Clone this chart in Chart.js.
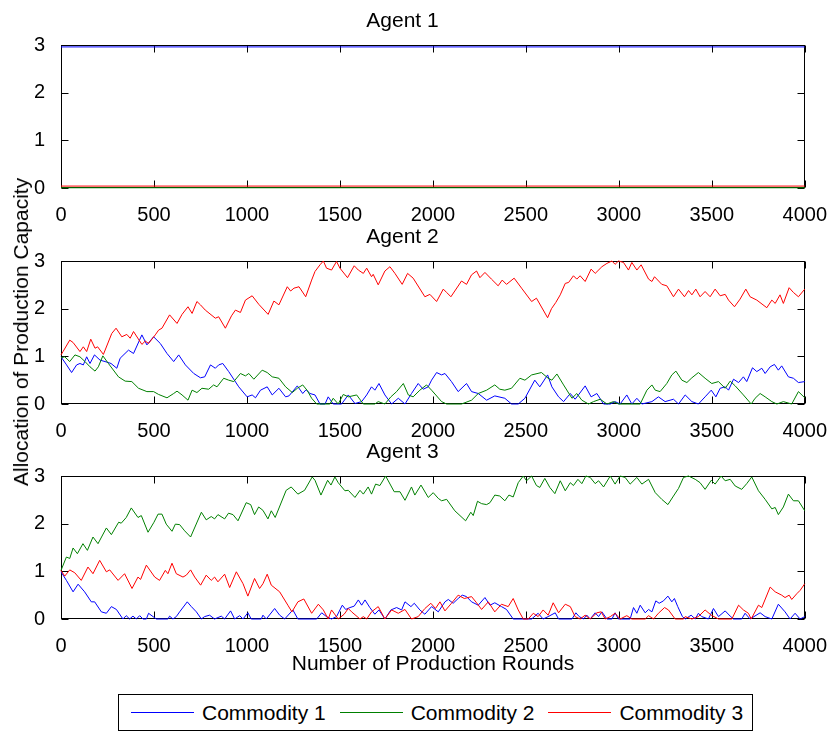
<!DOCTYPE html>
<html>
<head>
<meta charset="utf-8">
<script src="https://cdn.jsdelivr.net/npm/chart.js@4"></script>
<style>
  body { margin: 0; background: #fff; width: 834px; height: 734px; position: relative; overflow: hidden;
         font-family: "Liberation Sans", Arial, sans-serif; color: #000; }
  .panel { position: absolute; left: 0; }
  #ylabel { position: absolute; left: 21px; top: 332px; transform: translate(-50%, -50%) rotate(-90deg);
            font-size: 21px; white-space: nowrap; }
  #xlabel { position: absolute; left: 433px; top: 663px; transform: translate(-50%, -50%);
            font-size: 21px; white-space: nowrap; }
  #legend { position: absolute; left: 118px; top: 694px; width: 635px; height: 37px; box-sizing: border-box;
            border: 1px solid #000; display: flex; align-items: center; padding-left: 12px; font-size: 21px; }
  .item { display: flex; align-items: center; margin-right: 14px; white-space: nowrap; }
  .swatch { width: 63px; height: 0; border-top: 1px solid; margin-right: 8px; }
</style>
</head>
<body>
<canvas id="agent1" class="panel" width="834" height="223" style="top:0px"></canvas>
<canvas id="agent2" class="panel" width="834" height="223" style="top:216px"></canvas>
<canvas id="agent3" class="panel" width="834" height="223" style="top:431px"></canvas>
<div id="ylabel">Allocation of Production Capacity</div>
<div id="xlabel">Number of Production Rounds</div>
<div id="legend"></div>

<script>
// ticks
const xTicks = [0, 500, 1000, 1500, 2000, 2500, 3000, 3500, 4000];
const yTicks = [0, 1, 2, 3];

const commodities = ['Commodity 1', 'Commodity 2', 'Commodity 3'];
const colors = ['#0000ff', '#008000', '#ff0000'];
const agents = ['Agent 1', 'Agent 2', 'Agent 3'];

// [round, allocation]
const agent1Commodity1 = [[0, 2.96], [4000, 2.96]];
const agent1Commodity2 = [[0, 0.005], [4000, 0.005]];
const agent1Commodity3 = [[0, 0.04], [4000, 0.04]];

const agent2Commodity1 = [[0,0.99],[30,0.82],[57,0.66],[84,0.82],[102,0.85],[120,0.82],[138,0.99],[156,0.85],[180,1.03],[210,0.92],[237,0.89],[269,0.85],[300,0.75],[318,0.96],[363,1.13],[390,1.06],[435,1.45],[462,1.24],[498,1.41],[534,1.27],[570,1.06],[606,0.89],[633,1.03],[669,0.82],[714,0.64],[750,0.55],[773,0.57],[804,0.82],[830,0.75],[848,0.82],[870,0.85],[902,0.68],[956,0.36],[1001,0.15],[1028,0.19],[1046,0.13],[1073,0.29],[1109,0.36],[1136,0.19],[1172,0.33],[1208,0.15],[1226,0.17],[1271,0.38],[1300,0.22],[1318,0.3],[1339,0.22],[1366,0.19],[1393,0],[1420,0],[1437,0.15],[1464,0],[1509,0],[1545,0.19],[1581,0.01],[1617,0.05],[1644,0.19],[1670,0.36],[1688,0.29],[1710,0.43],[1742,0.19],[1778,0],[1814,0.12],[1850,0],[1885,0.22],[1921,0.43],[1948,0.31],[1975,0.36],[1993,0.5],[2020,0.66],[2047,0.61],[2065,0.64],[2100,0.47],[2136,0.26],[2181,0.43],[2208,0.26],[2244,0.22],[2289,0.08],[2333,0.17],[2387,0.12],[2423,0],[2459,0],[2495,0.12],[2548,0.5],[2575,0.36],[2617,0.61],[2640,0.36],[2676,0.15],[2703,0.05],[2739,0.22],[2765,0.1],[2783,0.19],[2819,0.38],[2851,0.15],[2882,0.22],[2918,0],[2954,0],[2980,0.05],[3007,0],[3043,0.19],[3070,0],[3097,0.12],[3124,0],[3178,0.05],[3213,0.15],[3249,0.05],[3294,0.1],[3321,0],[3357,0.19],[3393,0.05],[3428,0],[3464,0.15],[3497,0.29],[3522,0.15],[3545,0.33],[3572,0.36],[3590,0.29],[3617,0.52],[3644,0.45],[3670,0.57],[3688,0.47],[3719,0.76],[3742,0.68],[3769,0.75],[3787,0.64],[3814,0.78],[3837,0.83],[3858,0.71],[3876,0.8],[3912,0.57],[3939,0.54],[3966,0.45],[4000,0.47]];

const agent2Commodity2 = [[0,0.97],[20,0.99],[47,0.89],[75,1.03],[102,0.99],[129,0.89],[156,0.78],[183,0.69],[201,0.78],[225,1.01],[255,0.85],[309,0.57],[345,0.48],[381,0.47],[417,0.33],[462,0.26],[498,0.26],[525,0.2],[570,0.13],[606,0.22],[624,0.27],[651,0.19],[683,0.08],[705,0.29],[731,0.24],[758,0.33],[794,0.31],[821,0.4],[839,0.36],[875,0.54],[902,0.5],[929,0.47],[965,0.64],[992,0.59],[1010,0.64],[1037,0.52],[1082,0.71],[1109,0.66],[1136,0.57],[1172,0.54],[1208,0.36],[1244,0.24],[1271,0.33],[1300,0.4],[1325,0.28],[1348,0.12],[1375,0],[1446,0],[1464,0.12],[1491,0],[1518,0.2],[1545,0.15],[1590,0.19],[1626,0],[1688,0],[1706,0.05],[1742,0],[1774,0.15],[1805,0.26],[1841,0.43],[1868,0.19],[1894,0.15],[1930,0.29],[1966,0.4],[1993,0.29],[2047,0.05],[2074,0],[2154,0],[2208,0.08],[2244,0.22],[2289,0.29],[2333,0.4],[2360,0.31],[2387,0.29],[2423,0.33],[2468,0.54],[2495,0.5],[2531,0.61],[2584,0.66],[2620,0.54],[2640,0.5],[2667,0.63],[2703,0.4],[2748,0.12],[2774,0.22],[2801,0.08],[2837,0],[2864,0.05],[2900,0.1],[2936,0],[2971,0.05],[2998,0],[3115,0],[3151,0.29],[3178,0.4],[3196,0.29],[3222,0.26],[3258,0.43],[3285,0.61],[3307,0.69],[3339,0.5],[3366,0.45],[3393,0.55],[3428,0.66],[3464,0.54],[3500,0.43],[3536,0.47],[3572,0.33],[3599,0.48],[3626,0.38],[3670,0.19],[3712,0],[3733,0.12],[3760,0.22],[3787,0.15],[3823,0.05],[3850,0],[3885,0.05],[3930,0],[3966,0.26],[4000,0.13]];

const agent2Commodity3 = [[0,1.03],[11,1.1],[47,1.34],[65,1.29],[102,1.1],[120,1.2],[138,1.1],[160,1.36],[183,1.17],[197,1.2],[228,1.04],[273,1.48],[296,1.59],[327,1.41],[354,1.46],[372,1.38],[390,1.52],[435,1.25],[453,1.32],[471,1.27],[507,1.45],[525,1.55],[543,1.59],[584,1.87],[624,1.69],[651,1.88],[683,2.04],[705,1.9],[731,2.15],[750,2.08],[776,1.97],[830,1.8],[848,1.83],[884,1.59],[917,1.85],[938,1.97],[965,1.92],[992,2.18],[1028,2.27],[1064,2.09],[1114,1.88],[1145,2.16],[1172,2.08],[1217,2.46],[1235,2.37],[1253,2.43],[1280,2.46],[1316,2.25],[1348,2.6],[1366,2.78],[1393,2.92],[1411,3.0],[1428,2.85],[1455,2.81],[1482,2.99],[1500,2.85],[1541,2.65],[1577,2.9],[1599,2.81],[1626,2.74],[1644,2.85],[1670,2.67],[1679,2.72],[1706,2.5],[1742,2.79],[1769,2.88],[1796,2.74],[1835,2.51],[1864,2.74],[1894,2.64],[1957,2.25],[1984,2.3],[2020,2.15],[2056,2.41],[2074,2.34],[2097,2.25],[2154,2.58],[2181,2.51],[2208,2.71],[2235,2.79],[2253,2.65],[2280,2.76],[2315,2.62],[2351,2.48],[2373,2.6],[2396,2.51],[2437,2.64],[2477,2.43],[2531,2.15],[2557,2.22],[2617,1.81],[2638,2.0],[2661,2.13],[2685,2.29],[2712,2.53],[2730,2.55],[2756,2.69],[2774,2.62],[2792,2.69],[2819,2.57],[2851,2.83],[2873,2.74],[2909,2.88],[2936,2.95],[2963,3.0],[2980,2.93],[2998,3.0],[3025,2.97],[3052,2.81],[3070,2.97],[3097,2.81],[3120,2.92],[3160,2.62],[3178,2.57],[3192,2.67],[3231,2.51],[3258,2.48],[3294,2.25],[3321,2.41],[3353,2.25],[3375,2.38],[3393,2.29],[3414,2.41],[3437,2.25],[3464,2.36],[3491,2.25],[3518,2.41],[3545,2.27],[3572,2.3],[3590,2.18],[3622,2.04],[3652,2.2],[3683,2.41],[3706,2.25],[3742,2.18],[3796,2.02],[3823,2.18],[3841,2.11],[3867,2.29],[3885,2.11],[3916,2.44],[3939,2.34],[3966,2.25],[4000,2.41]];

const agent3Commodity1 = [[0,0.99],[29,0.81],[65,0.57],[92,0.73],[127,0.57],[163,0.36],[181,0.36],[217,0.15],[244,0.12],[271,0.26],[298,0.2],[333,0],[351,0.07],[369,0],[387,0.06],[405,0],[423,0.07],[441,0],[459,0],[471,0.12],[495,0.05],[513,0],[575,0],[584,0.06],[602,0],[620,0.05],[638,0.15],[679,0.36],[701,0.26],[728,0.15],[755,0],[772,0.05],[799,0.08],[826,0],[862,0.06],[880,0],[912,0.17],[934,0],[961,0.07],[979,0],[1005,0.13],[1023,0],[1077,0],[1086,0.08],[1104,0],[1149,0.22],[1176,0.08],[1203,0],[1247,0.19],[1274,0],[1375,0],[1402,0.13],[1428,0.05],[1455,0],[1482,0.05],[1513,0.29],[1531,0.2],[1554,0.24],[1577,0.27],[1599,0.4],[1617,0.29],[1635,0.4],[1661,0.24],[1688,0.1],[1710,0.19],[1742,0],[1774,0.19],[1805,0.24],[1832,0.19],[1850,0.36],[1882,0.26],[1900,0.33],[1930,0.19],[1957,0.1],[1993,0.26],[2029,0.15],[2065,0.36],[2083,0.41],[2109,0.33],[2136,0.43],[2158,0.5],[2181,0.47],[2208,0.36],[2244,0.29],[2280,0.45],[2307,0.29],[2333,0.34],[2369,0.26],[2396,0.2],[2432,0],[2531,0],[2566,0.12],[2593,0],[2620,0.05],[2658,0.13],[2676,0],[2748,0],[2769,0.13],[2787,0.05],[2810,0],[2828,0.08],[2846,0],[2873,0.13],[2891,0.05],[2909,0.15],[2936,0],[2963,0],[2980,0.13],[2998,0],[3061,0],[3079,0.24],[3097,0.12],[3115,0.29],[3142,0.13],[3160,0.2],[3178,0.15],[3199,0.38],[3217,0.33],[3240,0.38],[3264,0.48],[3285,0.36],[3299,0.43],[3317,0.26],[3342,0.05],[3357,0],[3389,0.08],[3411,0],[3428,0.12],[3446,0.05],[3482,0],[3509,0.22],[3536,0.05],[3572,0.17],[3599,0.06],[3617,0],[3661,0],[3679,0.12],[3706,0],[3760,0.13],[3787,0.05],[3823,0],[3858,0.31],[3894,0.15],[3921,0],[3948,0.12],[3975,0],[4000,0.05]];

const agent3Commodity2 = [[0,1.02],[29,1.3],[47,1.27],[65,1.49],[88,1.37],[118,1.58],[142,1.44],[172,1.72],[199,1.58],[244,1.91],[271,1.77],[310,2.03],[324,2.01],[351,2.13],[378,2.33],[414,2.13],[432,2.17],[468,1.82],[500,2.03],[522,2.2],[543,2.2],[566,1.99],[597,1.84],[615,1.99],[638,1.98],[665,1.85],[697,1.72],[755,2.24],[781,2.08],[808,2.15],[826,2.1],[844,2.19],[880,2.1],[901,2.22],[925,2.19],[952,2.06],[996,2.44],[1020,2.4],[1041,2.19],[1063,2.35],[1086,2.28],[1113,2.1],[1131,2.27],[1152,2.13],[1211,2.7],[1238,2.77],[1274,2.62],[1310,2.7],[1351,2.98],[1366,2.91],[1398,2.6],[1434,2.91],[1452,2.81],[1473,2.98],[1491,2.86],[1527,2.69],[1545,2.7],[1581,2.55],[1608,2.7],[1626,2.62],[1652,2.77],[1670,2.62],[1692,2.83],[1715,2.8],[1746,3.0],[1792,2.67],[1823,2.67],[1850,2.49],[1885,2.77],[1903,2.6],[1936,2.81],[1975,2.55],[2002,2.65],[2029,2.53],[2047,2.48],[2074,2.51],[2118,2.27],[2176,2.06],[2204,2.24],[2217,2.17],[2240,2.47],[2262,2.42],[2289,2.4],[2307,2.44],[2333,2.6],[2360,2.58],[2387,2.48],[2409,2.6],[2432,2.56],[2459,2.86],[2486,3.0],[2504,2.9],[2531,3.0],[2557,2.8],[2575,2.76],[2602,2.95],[2629,2.76],[2656,2.63],[2685,2.9],[2712,2.69],[2739,2.86],[2756,2.8],[2780,2.93],[2801,2.84],[2823,3.0],[2846,2.97],[2873,2.84],[2891,2.9],[2918,2.77],[2954,3.0],[2980,2.83],[3007,3.0],[3034,2.97],[3061,2.83],[3097,2.97],[3124,2.83],[3160,2.93],[3196,2.65],[3231,2.51],[3264,2.4],[3294,2.58],[3321,2.74],[3348,2.97],[3375,3.0],[3411,2.93],[3437,2.86],[3464,2.72],[3497,2.91],[3518,2.83],[3550,3.0],[3572,2.9],[3599,2.93],[3626,2.79],[3661,2.72],[3688,2.84],[3715,2.98],[3751,2.69],[3787,2.51],[3823,2.31],[3841,2.34],[3858,2.19],[3885,2.35],[3912,2.62],[3939,2.48],[3966,2.48],[4000,2.27]];

const agent3Commodity3 = [[0,1.02],[20,0.9],[47,1.03],[74,0.97],[109,0.81],[145,1.09],[172,0.95],[208,1.23],[244,0.99],[262,1.03],[307,0.81],[342,0.95],[382,0.64],[414,0.88],[428,0.83],[459,1.13],[504,0.88],[530,0.81],[561,1.02],[575,0.95],[597,1.17],[620,0.95],[656,0.88],[674,0.92],[697,1.03],[719,0.88],[751,0.71],[781,0.92],[808,0.81],[826,0.88],[844,0.78],[880,0.94],[907,0.66],[943,0.99],[979,0.74],[1005,0.48],[1041,0.85],[1068,0.64],[1086,0.74],[1109,0.94],[1131,0.71],[1176,0.57],[1220,0.29],[1242,0.15],[1274,0.36],[1306,0.42],[1348,0.12],[1384,0.31],[1411,0.19],[1437,0],[1455,0.19],[1491,0],[1523,0.1],[1545,0.22],[1563,0.15],[1608,0],[1626,0.05],[1644,0],[1670,0.15],[1706,0.26],[1742,0],[1778,0.19],[1814,0.12],[1850,0.2],[1885,0],[1921,0.05],[1957,0.22],[1989,0.33],[2014,0.22],[2038,0.36],[2065,0.17],[2100,0.33],[2136,0.5],[2169,0.43],[2208,0.47],[2235,0.34],[2262,0.2],[2298,0.36],[2333,0.15],[2369,0.31],[2405,0.26],[2432,0.43],[2459,0.19],[2486,0],[2513,0],[2540,0.12],[2566,0.05],[2593,0.19],[2620,0.08],[2647,0.34],[2676,0.13],[2712,0.31],[2739,0.26],[2765,0.05],[2792,0],[2819,0.08],[2846,0],[2882,0.13],[2905,0.15],[2927,0],[2954,0.05],[2980,0.12],[3007,0],[3043,0.07],[3070,0],[3142,0],[3160,0.07],[3187,0],[3213,0.12],[3246,0.24],[3267,0.19],[3303,0],[3348,0],[3357,0.05],[3393,0],[3428,0.05],[3464,0.19],[3497,0.08],[3536,0],[3608,0],[3644,0.29],[3670,0.19],[3697,0.12],[3712,0],[3751,0.29],[3769,0.24],[3814,0.67],[3841,0.57],[3876,0.5],[3894,0.45],[3916,0.5],[3930,0.41],[3957,0.53],[3975,0.6],[4000,0.74]];

const agentData = [
  [agent1Commodity1, agent1Commodity2, agent1Commodity3],
  [agent2Commodity1, agent2Commodity2, agent2Commodity3],
  [agent3Commodity1, agent3Commodity2, agent3Commodity3]
];

Chart.defaults.font.family = '"Liberation Sans", Arial, sans-serif';
Chart.defaults.color = '#000';

// matlab style box with inward ticks on all sides
const boxPlugin = {
  id: 'box',
  beforeDatasetsDraw(chart) {
    const { ctx, chartArea: a, scales: { x, y } } = chart;
    const l = Math.round(a.left) + 0.5, r = Math.round(a.right) - 0.5;
    const t = Math.round(a.top) + 0.5, b = Math.round(a.bottom) - 0.5;
    ctx.save();
    ctx.strokeStyle = '#000';
    ctx.lineWidth = 1;
    ctx.strokeRect(l, t, r - l, b - t);
    ctx.beginPath();
    xTicks.forEach(v => {
      const px = Math.round(x.getPixelForValue(v)) + 0.5;
      ctx.moveTo(px, b); ctx.lineTo(px, b - 7);
      ctx.moveTo(px, t); ctx.lineTo(px, t + 7);
    });
    yTicks.forEach(v => {
      const py = Math.round(y.getPixelForValue(v)) + 0.5;
      ctx.moveTo(l, py); ctx.lineTo(l + 7, py);
      ctx.moveTo(r, py); ctx.lineTo(r - 7, py);
    });
    ctx.stroke();
    ctx.restore();
  }
};

agents.forEach((name, i) => {
  new Chart(document.getElementById('agent' + (i + 1)), {
    type: 'line',
    data: {
      datasets: agentData[i].map((series, k) => ({
        label: commodities[k],
        data: series.map(([x, y]) => ({ x, y })),
        borderColor: colors[k],
        borderWidth: 1,
        pointRadius: 0,
        fill: false,
        tension: 0,
        clip: 3,
        order: 3 - k
      }))
    },
    options: {
      responsive: false,
      animation: false,
      layout: { padding: { left: 0, right: 29, top: 0, bottom: 0 } },
      plugins: {
        legend: { display: false },
        tooltip: { enabled: false },
        title: {
          display: true,
          text: name,
          font: { size: 21, weight: 'normal' },
          color: '#000',
          padding: { top: 9, bottom: 10.8 }
        }
      },
      scales: {
        x: {
          type: 'linear', min: 0, max: 4000,
          afterBuildTicks: s => { s.ticks = xTicks.map(v => ({ value: v })); },
          afterFit: s => { s.height = 35; },
          grid: { display: false },
          border: { display: false },
          ticks: { font: { size: 20 }, padding: 7, maxRotation: 0, color: '#000', callback: v => String(v) }
        },
        y: {
          min: 0, max: 3,
          afterBuildTicks: s => { s.ticks = yTicks.map(v => ({ value: v })); },
          afterFit: s => { s.width = 61; },
          grid: { display: false },
          border: { display: false },
          ticks: { font: { size: 20 }, padding: 8, color: '#000', callback: v => String(v) }
        }
      }
    },
    plugins: [boxPlugin]
  });
});

// legend
const legend = document.getElementById('legend');
commodities.forEach((c, k) => {
  const item = document.createElement('div');
  item.className = 'item';
  item.innerHTML = '<span class="swatch" style="border-color:' + colors[k] + '"></span><span>' + c + '</span>';
  legend.appendChild(item);
});
</script>
</body>
</html>
